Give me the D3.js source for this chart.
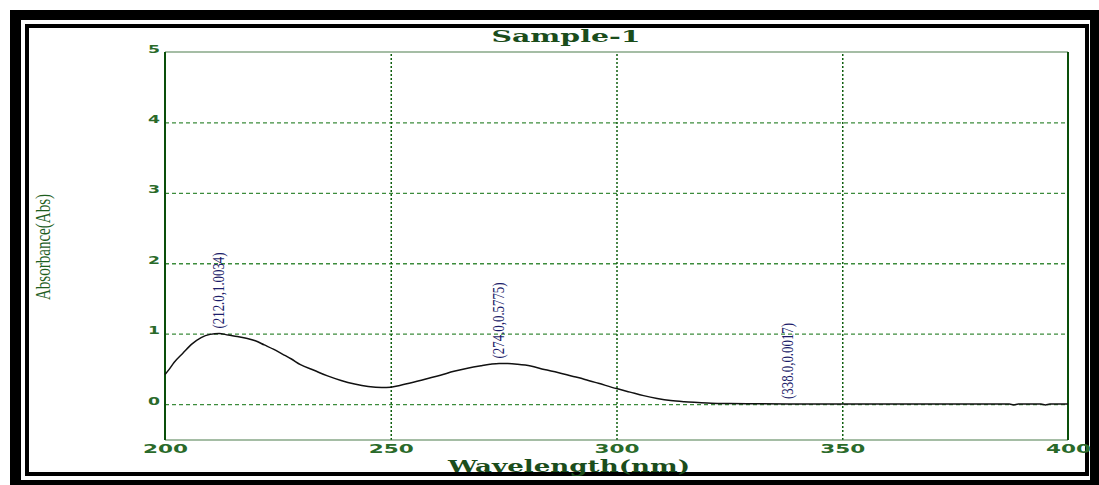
<!DOCTYPE html>
<html>
<head>
<meta charset="utf-8">
<script src="https://cdn.jsdelivr.net/npm/d3@7"></script>
<style>
  body { margin: 0; background: #fff; }
  svg { display: block; }
</style>
</head>
<body>
<div id="chart"></div>
<script>
// spectrum
const wavelength = [200, 201, 202, 204, 206, 208, 210, 212, 214, 216, 218, 220, 222, 224, 226, 228, 230, 233, 236, 239, 242, 245, 248, 250, 252, 255, 258, 261, 264, 267, 270, 272, 274, 276, 278, 281, 284, 287, 290, 293, 296, 300, 303, 306, 309, 312, 315, 318, 321, 325, 330, 338, 345, 355, 365, 375, 387, 388, 389, 394, 395, 396, 400];
const absorbance = [0.42, 0.5, 0.59, 0.725, 0.855, 0.945, 0.99, 1.0034, 0.98, 0.96, 0.935, 0.9, 0.84, 0.78, 0.71, 0.64, 0.56, 0.48, 0.4, 0.335, 0.285, 0.25, 0.235, 0.24, 0.265, 0.31, 0.36, 0.41, 0.465, 0.51, 0.545, 0.565, 0.5775, 0.575, 0.565, 0.54, 0.49, 0.45, 0.4, 0.35, 0.295, 0.22, 0.17, 0.12, 0.08, 0.05, 0.033, 0.022, 0.012, 0.007, 0.004, 0.0017, 0.001, 0, 0, 0, 0, -0.012, 0, 0, -0.012, 0, 0];

const peakWavelength = [212.0, 274.0, 338.0];
const peakAbsorbance = [1.0034, 0.5775, 0.0017];

const xTicks = [200, 250, 300, 350, 400];
const yTicks = [0, 1, 2, 3, 4, 5];

let width = 1099,
  height = 485,
  plotLeft = 165,
  plotRight = 1068,
  plotTop = 52,
  plotBottom = 440;

let svg = d3
  .select("#chart")
  .append("svg")
  .attr("width", width)
  .attr("height", height);

// black double frame
svg.append("rect").attr("x", 10).attr("y", 10).attr("width", 1100).attr("height", 480).attr("fill", "#000");
svg.append("rect").attr("x", 21).attr("y", 20).attr("width", 1069).attr("height", 460).attr("fill", "#fff");
svg
  .append("rect")
  .attr("x", 27)
  .attr("y", 26)
  .attr("width", 1060)
  .attr("height", 448)
  .attr("fill", "#fff")
  .attr("stroke", "#000")
  .attr("stroke-width", 4);

let xScale = d3.scaleLinear().domain([200, 400]).range([plotLeft, plotRight]);
let yScale = d3.scaleLinear().domain([-0.51, 5]).range([plotBottom, plotTop]);

// horizontal dashed grid
svg
  .append("g")
  .attr("transform", "translate(" + plotLeft + ",0)")
  .call(d3.axisLeft(yScale).tickValues(yTicks.slice(0, -1)).tickSize(-(plotRight - plotLeft)).tickFormat(""))
  .call((g) => g.select(".domain").remove())
  .selectAll("line")
  .attr("stroke", "#3c8c3c")
  .attr("stroke-width", 1.3)
  .attr("stroke-dasharray", "4,3");

// vertical dotted grid
svg
  .append("g")
  .attr("transform", "translate(0," + plotBottom + ")")
  .call(d3.axisBottom(xScale).tickValues(xTicks.slice(1, -1)).tickSize(-(plotBottom - plotTop)).tickFormat(""))
  .call((g) => g.select(".domain").remove())
  .selectAll("line")
  .attr("stroke", "#0e5e0e")
  .attr("stroke-width", 1.5)
  .attr("stroke-dasharray", "2,2");

// plot frame
svg.append("line").attr("x1", plotLeft).attr("x2", plotRight).attr("y1", plotTop).attr("y2", plotTop).attr("stroke", "#4d7d4d").attr("stroke-width", 1.2);
svg.append("line").attr("x1", plotLeft).attr("x2", plotRight).attr("y1", plotBottom).attr("y2", plotBottom).attr("stroke", "#4d7d4d").attr("stroke-width", 1.2);
svg.append("line").attr("x1", plotLeft).attr("x2", plotLeft).attr("y1", plotTop).attr("y2", plotBottom).attr("stroke", "#0a4f0a").attr("stroke-width", 2);
svg.append("line").attr("x1", plotRight).attr("x2", plotRight).attr("y1", plotTop).attr("y2", plotBottom).attr("stroke", "#0a4f0a").attr("stroke-width", 2);

// tick labels
let yAxis = svg
  .append("g")
  .attr("transform", "translate(" + plotLeft + ",0)")
  .call(d3.axisLeft(yScale).tickValues(yTicks).tickSize(0).tickPadding(5).tickFormat(d3.format("d")));
yAxis.select(".domain").remove();
yAxis
  .selectAll("text")
  .attr("dy", "0")
  .attr("font-family", "DejaVu Sans")
  .attr("font-weight", "bold")
  .attr("font-size", 11)
  .attr("fill", "#2a6a2a")
  .attr("textLength", 12)
  .attr("lengthAdjust", "spacingAndGlyphs");

let xAxis = svg
  .append("g")
  .attr("transform", "translate(0," + plotBottom + ")")
  .call(d3.axisBottom(xScale).tickValues(xTicks).tickSize(0).tickFormat(d3.format("d")));
xAxis.select(".domain").remove();
xAxis
  .selectAll("text")
  .attr("y", 13)
  .attr("dy", "0")
  .attr("font-family", "DejaVu Sans")
  .attr("font-weight", "bold")
  .attr("font-size", 12)
  .attr("fill", "#2a6a2a")
  .attr("textLength", 45)
  .attr("lengthAdjust", "spacingAndGlyphs");

// spectrum
let points = wavelength.map((w, i) => [w, absorbance[i]]);
let line = d3
  .line()
  .x((d) => xScale(d[0]))
  .y((d) => yScale(d[1]))
  .curve(d3.curveMonotoneX);

svg
  .append("path")
  .datum(points)
  .attr("d", line)
  .attr("fill", "none")
  .attr("stroke", "#111")
  .attr("stroke-width", 1.5);

// peak labels
svg
  .selectAll(".peak")
  .data(peakWavelength)
  .enter()
  .append("text")
  .attr("class", "peak")
  .attr("transform", (d, i) => "translate(" + (xScale(d) - 1) + "," + (yScale(peakAbsorbance[i]) - 5) + ") rotate(-90)")
  .attr("dy", "0.35em")
  .attr("font-family", "Liberation Serif")
  .attr("font-size", 17)
  .attr("fill", "#1c1c6a")
  .attr("textLength", 76)
  .attr("lengthAdjust", "spacingAndGlyphs")
  .text((d, i) => "(" + d3.format(".1f")(d) + "," + d3.format(".4f")(peakAbsorbance[i]) + ")");

// titles
svg
  .append("text")
  .attr("x", 566)
  .attr("y", 42)
  .attr("text-anchor", "middle")
  .attr("font-family", "DejaVu Serif")
  .attr("font-weight", "bold")
  .attr("font-size", 17)
  .attr("fill", "#1b4d1b")
  .attr("textLength", 149)
  .attr("lengthAdjust", "spacingAndGlyphs")
  .text("Sample-1");

svg
  .append("text")
  .attr("x", 569)
  .attr("y", 472)
  .attr("text-anchor", "middle")
  .attr("font-family", "DejaVu Serif")
  .attr("font-weight", "bold")
  .attr("font-size", 17)
  .attr("fill", "#1b4d1b")
  .attr("textLength", 242)
  .attr("lengthAdjust", "spacingAndGlyphs")
  .text("Wavelength(nm)");

svg
  .append("text")
  .attr("transform", "translate(43,247) rotate(-90)")
  .attr("dy", "0.35em")
  .attr("text-anchor", "middle")
  .attr("font-family", "Liberation Serif")
  .attr("font-size", 21)
  .attr("fill", "#1e5e1e")
  .attr("textLength", 106)
  .attr("lengthAdjust", "spacingAndGlyphs")
  .text("Absorbance(Abs)");
</script>
</body>
</html>
